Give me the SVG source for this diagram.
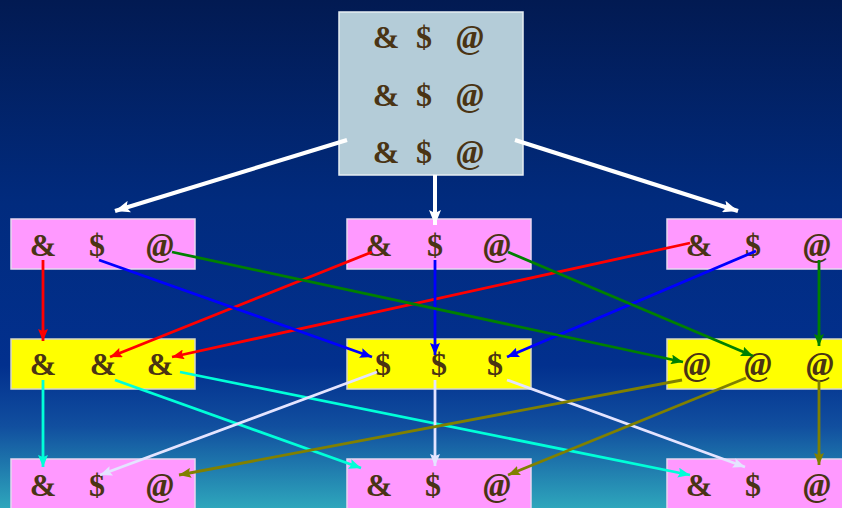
<svg xmlns="http://www.w3.org/2000/svg" width="842" height="508" viewBox="0 0 842 508">
  <defs>
    <linearGradient id="bg" x1="0" y1="0" x2="0" y2="1">
      <stop offset="0" stop-color="#021a52"/>
      <stop offset="0.4" stop-color="#012b7e"/>
      <stop offset="0.72" stop-color="#02308e"/>
      <stop offset="0.84" stop-color="#114f9f"/>
      <stop offset="1" stop-color="#2ea6bc"/>
    </linearGradient>
    <marker id="mW" markerUnits="userSpaceOnUse" markerWidth="16" markerHeight="12" refX="15" refY="6" orient="auto"><path d="M0,0 L15,6 L0,12 L3,6 z" fill="#ffffff"/></marker>
    <marker id="mR" markerUnits="userSpaceOnUse" markerWidth="13" markerHeight="10" refX="12" refY="5" orient="auto"><path d="M0,0 L12,5 L0,10 L2,5 z" fill="#ff0000"/></marker>
    <marker id="mB" markerUnits="userSpaceOnUse" markerWidth="13" markerHeight="10" refX="12" refY="5" orient="auto"><path d="M0,0 L12,5 L0,10 L2,5 z" fill="#0000ff"/></marker>
    <marker id="mG" markerUnits="userSpaceOnUse" markerWidth="13" markerHeight="10" refX="12" refY="5" orient="auto"><path d="M0,0 L12,5 L0,10 L2,5 z" fill="#008000"/></marker>
    <marker id="mC" markerUnits="userSpaceOnUse" markerWidth="13" markerHeight="10" refX="12" refY="5" orient="auto"><path d="M0,0 L12,5 L0,10 L2,5 z" fill="#00ffd8"/></marker>
    <marker id="mL" markerUnits="userSpaceOnUse" markerWidth="13" markerHeight="10" refX="12" refY="5" orient="auto"><path d="M0,0 L12,5 L0,10 L2,5 z" fill="#e4e4ff"/></marker>
    <marker id="mO" markerUnits="userSpaceOnUse" markerWidth="13" markerHeight="10" refX="12" refY="5" orient="auto"><path d="M0,0 L12,5 L0,10 L2,5 z" fill="#808000"/></marker>
  </defs>
  <style>
    .top { fill: #b4ccd8; stroke: #e6eef2; stroke-width: 1.5; }
    .pink { fill: #ff99ff; stroke: #e8d8f0; stroke-width: 1.5; }
    .yel { fill: #ffff00; stroke: #d8d8c8; stroke-width: 1.5; }
    text { font-family: "Liberation Serif", "Times New Roman", serif; font-weight: bold; font-size: 32px; fill: #4a3414; text-anchor: middle; }
    text.at { font-style: italic; font-size: 33px; }
    line { fill: none; stroke-width: 2.8; }
    .w { stroke: #ffffff; stroke-width: 4; marker-end: url(#mW); }
    .r { stroke: #ff0000; marker-end: url(#mR); }
    .b { stroke: #0000ff; marker-end: url(#mB); }
    .g { stroke: #008000; marker-end: url(#mG); }
    .c { stroke: #00ffd8; marker-end: url(#mC); }
    .l { stroke: #e4e4ff; marker-end: url(#mL); }
    .o { stroke: #808000; marker-end: url(#mO); }
  </style>

  <rect x="0" y="0" width="842" height="508" fill="url(#bg)"/>

  <!-- source block -->
  <g id="source">
    <rect class="top" x="339" y="12" width="184" height="163"/>
    <text x="386" y="48">&amp;</text><text x="424" y="48">$</text><text class="at" x="470" y="48">@</text>
    <text x="386" y="106">&amp;</text><text x="424" y="106">$</text><text class="at" x="470" y="106">@</text>
    <text x="386" y="163">&amp;</text><text x="424" y="163">$</text><text class="at" x="470" y="163">@</text>
  </g>

  <!-- first row of blocks -->
  <g id="r1a">
    <rect class="pink" x="11" y="219" width="184" height="50"/>
    <text x="43" y="256">&amp;</text><text x="97" y="256">$</text><text class="at" x="160" y="256">@</text>
  </g>
  <g id="r1b">
    <rect class="pink" x="347" y="219" width="184" height="50"/>
    <text x="379" y="256">&amp;</text><text x="435" y="256">$</text><text class="at" x="497" y="256">@</text>
  </g>
  <g id="r1c">
    <rect class="pink" x="667" y="219" width="184" height="50"/>
    <text x="699" y="256">&amp;</text><text x="753" y="256">$</text><text class="at" x="817" y="256">@</text>
  </g>

  <!-- second row of blocks -->
  <g id="r2a">
    <rect class="yel" x="11" y="339" width="184" height="50"/>
    <text x="43" y="375">&amp;</text><text x="103" y="375">&amp;</text><text x="160" y="375">&amp;</text>
  </g>
  <g id="r2b">
    <rect class="yel" x="347" y="339" width="184" height="50"/>
    <text x="383" y="375">$</text><text x="439" y="375">$</text><text x="495" y="375">$</text>
  </g>
  <g id="r2c">
    <rect class="yel" x="667" y="339" width="184" height="50"/>
    <text class="at" x="697" y="375">@</text><text class="at" x="758" y="375">@</text><text class="at" x="820" y="375">@</text>
  </g>

  <!-- third row of blocks -->
  <g id="r3a">
    <rect class="pink" x="11" y="459" width="184" height="52"/>
    <text x="43" y="496">&amp;</text><text x="97" y="496">$</text><text class="at" x="160" y="496">@</text>
  </g>
  <g id="r3b">
    <rect class="pink" x="347" y="459" width="184" height="52"/>
    <text x="379" y="496">&amp;</text><text x="433" y="496">$</text><text class="at" x="497" y="496">@</text>
  </g>
  <g id="r3c">
    <rect class="pink" x="667" y="459" width="184" height="52"/>
    <text x="699" y="496">&amp;</text><text x="753" y="496">$</text><text class="at" x="817" y="496">@</text>
  </g>

  <!-- connectors -->
  <g id="connectors">
    <line class="w" x1="347" y1="140" x2="115" y2="211"/>
    <line class="w" x1="435" y1="175" x2="435" y2="225"/>
    <line class="w" x1="515" y1="140" x2="738" y2="211"/>

    <line class="r" x1="43" y1="260" x2="43" y2="341"/>
    <line class="r" x1="372" y1="252" x2="110" y2="357"/>
    <line class="r" x1="690" y1="243" x2="172" y2="357"/>

    <line class="b" x1="99" y1="260" x2="372" y2="357"/>
    <line class="b" x1="435" y1="260" x2="435" y2="355"/>
    <line class="b" x1="756" y1="251" x2="507" y2="357"/>

    <line class="g" x1="172" y1="252" x2="683" y2="362"/>
    <line class="g" x1="508" y1="252" x2="753" y2="356"/>
    <line class="g" x1="819" y1="260" x2="819" y2="346"/>

    <line class="c" x1="43" y1="380" x2="43" y2="467"/>
    <line class="c" x1="115" y1="380" x2="361" y2="468"/>
    <line class="c" x1="180" y1="372" x2="690" y2="475"/>

    <line class="l" x1="377" y1="372" x2="100" y2="475"/>
    <line class="l" x1="435" y1="380" x2="435" y2="466"/>
    <line class="l" x1="507" y1="380" x2="745" y2="467"/>

    <line class="o" x1="682" y1="380" x2="179" y2="475"/>
    <line class="o" x1="746" y1="378" x2="508" y2="475"/>
    <line class="o" x1="819" y1="380" x2="819" y2="465"/>
  </g>
</svg>
